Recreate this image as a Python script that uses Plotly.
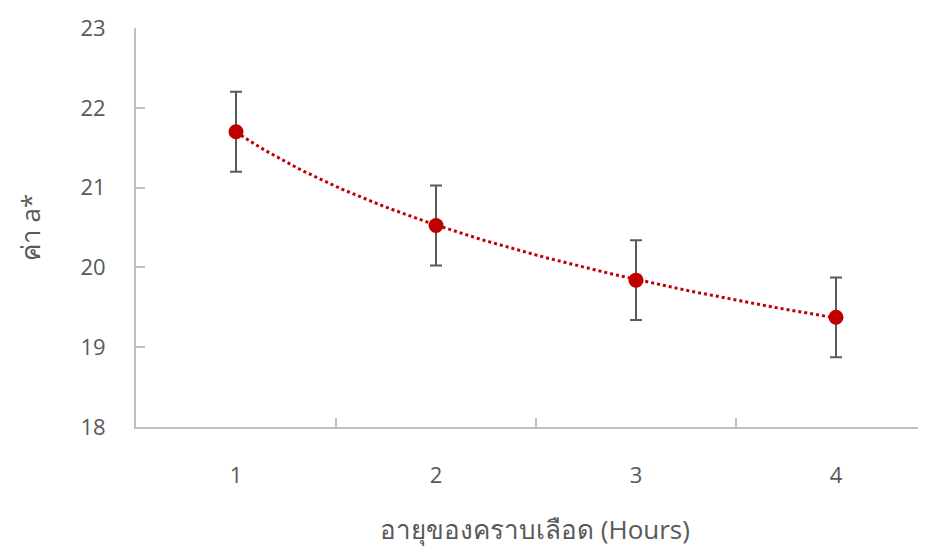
import numpy as np
import plotly.graph_objects as go

hours = [1, 2, 3, 4]
a_values = [21.70, 20.525, 19.84, 19.375]
a_errors = [0.5, 0.5, 0.5, 0.5]
y_ticks = [18, 19, 20, 21, 22, 23]

# logarithmic trendline (as in the spreadsheet chart)
b, a0 = np.polyfit(np.log(hours), a_values, 1)
xt = np.linspace(hours[0], hours[-1], 80)
yt = a0 + b * np.log(xt)

RED = "#C00000"
TXT = "#595959"
AX = "#BFBFBF"

fig = go.Figure()
fig.add_trace(go.Scatter(x=xt, y=yt, mode="lines",
                         line=dict(color=RED, width=3, dash="dot"),
                         hoverinfo="skip", showlegend=False))
fig.add_trace(go.Scatter(x=hours, y=a_values, mode="markers",
                         marker=dict(color=RED, size=15),
                         error_y=dict(type="data", array=a_errors, visible=True,
                                      color=TXT, thickness=2, width=6),
                         showlegend=False))

fig.update_layout(
    width=926, height=552,
    margin=dict(l=128, r=0, t=20, b=133),
    paper_bgcolor="white", plot_bgcolor="white",
    font=dict(family="Open Sans, Noto Sans, DejaVu Sans", color=TXT, size=22),
    xaxis=dict(range=[0.5, 4.49], tickvals=hours, ticktext=[str(h) for h in hours],
               showgrid=False, zeroline=False, showline=True, linecolor=AX, linewidth=2,
               ticks="", ticklabelstandoff=28,
               minor=dict(tickvals=[1.5, 2.5, 3.5], ticks="inside", ticklen=9,
                          tickcolor=AX, tickwidth=2, showgrid=False),
               title=dict(text="อายุของคราบเลือด (Hours)", font=dict(size=26, color=TXT),
                          standoff=32)),
    yaxis=dict(range=[18, 23], tickvals=y_ticks, showgrid=False, zeroline=False,
               showline=True, linecolor=AX, linewidth=2,
               ticks="inside", ticklen=9, tickcolor=AX, tickwidth=2,
               ticklabelstandoff=24,
               title=dict(text="ค่า a*", font=dict(size=26, color=TXT), standoff=32)),
)

fig.write_html("out.html")
